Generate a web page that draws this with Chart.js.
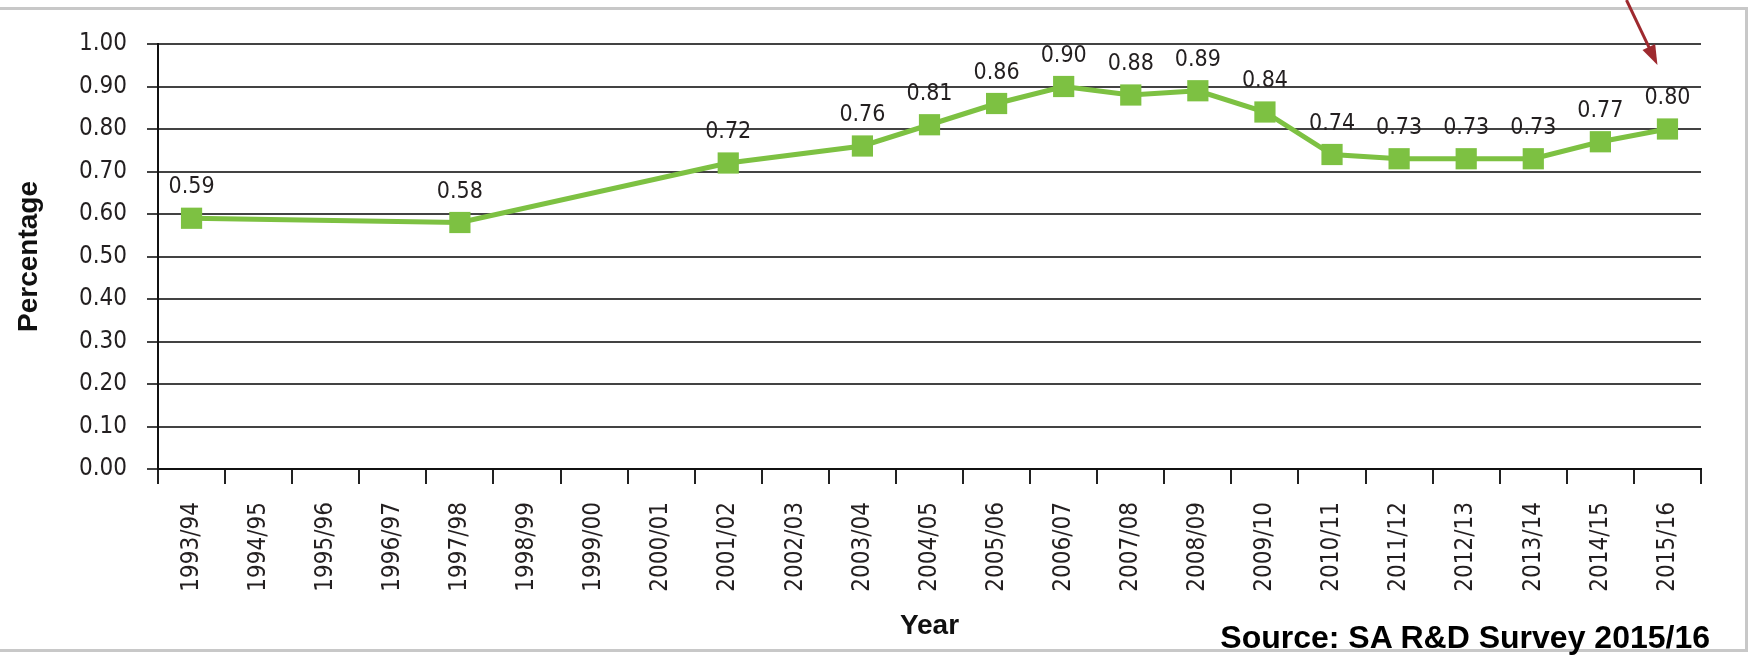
<!DOCTYPE html>
<html>
<head>
<meta charset="utf-8">
<title>R&amp;D intensity</title>
<script src="https://cdn.jsdelivr.net/npm/chart.js@4.4.0/dist/chart.umd.min.js"></script>
<style>
  html, body { margin: 0; padding: 0; background: #fff; }
  #wrap { position: relative; width: 1754px; height: 657px; overflow: hidden; }
  #frame {
    position: absolute; left: -4px; top: 7px; width: 1752px; height: 645px;
    border: 3px solid #c8c8c8; box-sizing: border-box;
  }
  #chart { position: absolute; left: 0; top: 0; }
  #source {
    position: absolute; right: 44px; bottom: 1px;
    font: bold 32px "Liberation Sans", Arial, sans-serif; color: #000;
    white-space: nowrap;
  }
</style>
</head>
<body>
<div id="wrap">
  <div id="frame"></div>
  <canvas id="chart" width="1754" height="657"></canvas>
  <div id="source">Source: SA R&amp;D Survey 2015/16</div>
</div>
<script>
// survey years on the category axis
const years = ['1993/94', '1994/95', '1995/96', '1996/97', '1997/98', '1998/99', '1999/00',
    '2000/01', '2001/02', '2002/03', '2003/04', '2004/05', '2005/06', '2006/07', '2007/08',
    '2008/09', '2009/10', '2010/11', '2011/12', '2012/13', '2013/14', '2014/15', '2015/16'];

// GERD as % of GDP, no survey in the null years
const gerdPct = [0.59, null, null, null, 0.58, null, null,
    null, 0.72, null, 0.76, 0.81, 0.86, 0.90, 0.88,
    0.89, 0.84, 0.74, 0.73, 0.73, 0.73, 0.77, 0.80];

const yTicks = [0, 0.1, 0.2, 0.3, 0.4, 0.5, 0.6, 0.7, 0.8, 0.9, 1.0];

const narrow = '"Liberation Sans Narrow", "DejaVu Sans Condensed", sans-serif';
const green = '#7dc142';

// value above every square
const valueLabels = {
    id: 'valueLabels',
    afterDatasetsDraw(chart) {
        const ctx = chart.ctx;
        const meta = chart.getDatasetMeta(0);
        ctx.save();
        ctx.font = '23px ' + narrow;
        ctx.fillStyle = '#231f20';
        ctx.textAlign = 'center';
        ctx.textBaseline = 'alphabetic';
        meta.data.forEach((pt, i) => {
            const v = gerdPct[i];
            if (v === null) return;
            ctx.fillText(v.toFixed(2), pt.x, pt.y - 25);
        });
        ctx.restore();
    }
};

// red arrow pointing down at the latest survey value
const latestArrow = {
    id: 'latestArrow',
    afterDraw(chart) {
        const meta = chart.getDatasetMeta(0);
        const last = meta.data[meta.data.length - 1];
        const ctx = chart.ctx;
        const tipX = last.x - 10, tipY = last.y - 64;
        const dx = 31, dy = 65;
        const len = Math.hypot(dx, dy);
        const ux = dx / len, uy = dy / len;
        const t = tipY / uy;
        ctx.save();
        ctx.strokeStyle = '#9e2a2f';
        ctx.fillStyle = '#9e2a2f';
        ctx.lineWidth = 3;
        ctx.beginPath();
        ctx.moveTo(tipX - ux * t, 0);
        ctx.lineTo(tipX - ux * 16, tipY - uy * 16);
        ctx.stroke();
        const hl = 20, hw = 7;
        const bx = tipX - ux * hl, by = tipY - uy * hl;
        ctx.beginPath();
        ctx.moveTo(tipX, tipY);
        ctx.lineTo(bx - uy * hw, by + ux * hw);
        ctx.lineTo(bx + uy * hw, by - ux * hw);
        ctx.closePath();
        ctx.fill();
        ctx.restore();
    }
};

new Chart(document.getElementById('chart'), {
    type: 'line',
    data: {
        labels: years,
        datasets: [{
            data: gerdPct,
            borderColor: green,
            backgroundColor: green,
            borderWidth: 5,
            pointStyle: 'rect',
            pointRadius: 15,
            pointBorderWidth: 0,
            spanGaps: true,
            tension: 0
        }]
    },
    options: {
        responsive: false,
        animation: false,
        devicePixelRatio: 1,
        layout: { padding: { top: 44, right: 53, left: 0, bottom: 0 } },
        plugins: {
            legend: { display: false },
            tooltip: { enabled: false }
        },
        scales: {
            x: {
                offset: true,
                afterFit: scale => { scale.height = 188; },
                grid: {
                    offset: true,
                    drawOnChartArea: false,
                    drawTicks: true,
                    tickLength: 15,
                    color: '#222',
                    lineWidth: 2
                },
                border: { color: '#111', width: 2 },
                ticks: {
                    autoSkip: false,
                    minRotation: 90,
                    maxRotation: 90,
                    padding: 18,
                    color: '#231f20',
                    font: { family: narrow, size: 24 }
                },
                title: {
                    display: true,
                    text: 'Year',
                    color: '#111',
                    font: { family: '"Liberation Sans", Arial, sans-serif', size: 28, weight: 'bold' },
                    padding: { top: 0, bottom: 14 }
                }
            },
            y: {
                min: 0,
                max: 1,
                afterFit: scale => { scale.width = 158; },
                afterBuildTicks: scale => { scale.ticks = yTicks.map(v => ({ value: v })); },
                grid: {
                    color: '#434343',
                    lineWidth: 2,
                    tickLength: 11
                },
                border: { color: '#111', width: 2 },
                ticks: {
                    padding: 20,
                    color: '#231f20',
                    font: { family: narrow, size: 24 },
                    callback: v => v.toFixed(2)
                },
                title: {
                    display: true,
                    text: 'Percentage',
                    color: '#111',
                    font: { family: '"Liberation Sans", Arial, sans-serif', size: 28, weight: 'bold' },
                    padding: { top: 12, bottom: 0 }
                }
            }
        }
    },
    plugins: [valueLabels, latestArrow]
});
</script>
</body>
</html>
